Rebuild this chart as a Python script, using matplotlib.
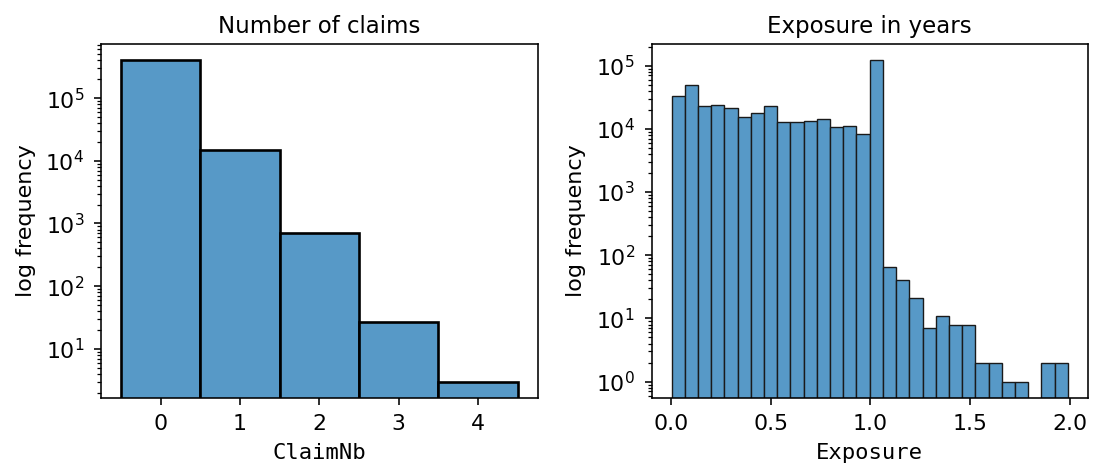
import numpy as np
import matplotlib
matplotlib.use("Agg")
import matplotlib.pyplot as plt

# ---- data ----
claim_values = [0, 1, 2, 3, 4]
claim_counts = [400000, 14800, 718, 27, 3]

exposure_min = 0.0027
exposure_max = 1.99
exposure_counts = [32600, 48600, 22900, 23500, 21300, 15400, 17600, 23200,
                   13000, 13000, 13300, 14500, 10800, 11100, 8280, 121000,
                   64, 41, 21, 7, 11, 8, 8, 2, 2, 1, 1, 0, 2, 2]

titles = ["Number of claims", "Exposure in years"]
xlabels = ["ClaimNb", "Exposure"]
ylabel = "log frequency"

face = "#5799C7"
fs_tick = 15.8
fs_label = 16.0
fs_title = 16.5

plt.rcParams["font.family"] = ["DejaVu Sans"]
fig = plt.figure(figsize=(10.94, 4.68), dpi=100)
ax1 = fig.add_axes([0.0923, 0.1502, 0.3992, 0.7551])
ax2 = fig.add_axes([0.5957, 0.1502, 0.3985, 0.7551])


def log_limits(counts):
    pos = [c for c in counts if c > 0]
    lo, hi = np.log10(min(pos)), np.log10(max(pos))
    m = 0.05 * (hi - lo)
    return 10 ** (lo - m), 10 ** (hi + m)


# left: discrete histogram
ax1.bar(claim_values, claim_counts, width=1.0, color=face, edgecolor="black",
        linewidth=1.9)
ax1.set_yscale("log")
ax1.set_ylim(*log_limits(claim_counts))
ax1.set_xticks(claim_values)

# right: 30-bin histogram
edges = np.linspace(exposure_min, exposure_max, len(exposure_counts) + 1)
widths = np.diff(edges)
keep = [i for i, c in enumerate(exposure_counts) if c > 0]
ax2.bar(edges[:-1][keep], np.array(exposure_counts)[keep], width=widths[keep],
        align="edge", color=face, edgecolor="#1a1a1a", linewidth=1.0)
ax2.set_yscale("log")
ax2.set_ylim(*log_limits(exposure_counts))
ax2.set_xlim(exposure_min - 0.05 * (exposure_max - exposure_min),
             exposure_max + 0.05 * (exposure_max - exposure_min))
ax2.set_xticks([0.0, 0.5, 1.0, 1.5, 2.0])

for ax, t, xl in zip([ax1, ax2], titles, xlabels):
    ax.set_title(t, fontsize=fs_title, pad=8)
    ax.set_xlabel(xl, fontsize=fs_label, family="DejaVu Sans Mono", labelpad=6)
    ax.set_ylabel(ylabel, fontsize=fs_label, labelpad=7)
    ax.tick_params(axis="both", which="major", labelsize=fs_tick, length=5, width=1.15, pad=7)
    ax.tick_params(axis="both", which="minor", length=2.9, width=0.9)
    for s in ax.spines.values():
        s.set_linewidth(1.15)

fig.savefig("out.png", dpi=100)
